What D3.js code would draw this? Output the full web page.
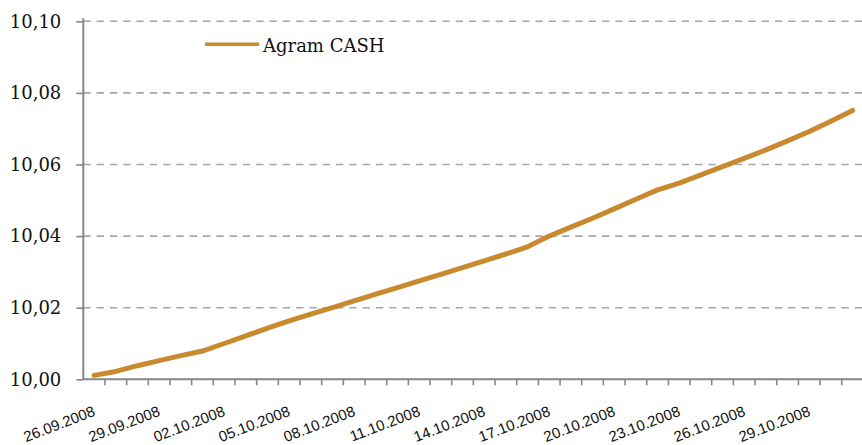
<!DOCTYPE html>
<html>
<head>
<meta charset="utf-8">
<script src="https://cdn.jsdelivr.net/npm/d3@7"></script>
<style>
  html, body { margin: 0; padding: 0; background: #ffffff; }
  svg { display: block; }
</style>
</head>
<body>
<svg id="chart" width="862" height="445"></svg>
<script>
// ---- data ----
const dates = [
  "26.09.2008","27.09.2008","28.09.2008","29.09.2008","30.09.2008",
  "01.10.2008","02.10.2008","03.10.2008","04.10.2008","05.10.2008",
  "06.10.2008","07.10.2008","08.10.2008","09.10.2008","10.10.2008",
  "11.10.2008","12.10.2008","13.10.2008","14.10.2008","15.10.2008",
  "16.10.2008","17.10.2008","18.10.2008","19.10.2008","20.10.2008",
  "21.10.2008","22.10.2008","23.10.2008","24.10.2008","25.10.2008",
  "26.10.2008","27.10.2008","28.10.2008","29.10.2008","30.10.2008",
  "31.10.2008"
];
const agramCash = [
  10.0011, 10.0022, 10.0038, 10.0052, 10.0066,
  10.0079, 10.0100, 10.0121, 10.0143, 10.0163,
  10.0182, 10.0200, 10.0219, 10.0238, 10.0256,
  10.0275, 10.0293, 10.0312, 10.0331, 10.0350,
  10.0370, 10.0400, 10.0425, 10.0450, 10.0476,
  10.0503, 10.0529, 10.0548, 10.0571, 10.0594,
  10.0617, 10.0641, 10.0666, 10.0692, 10.0721,
  10.0751
];
const yTicks = [10.00, 10.02, 10.04, 10.06, 10.08, 10.10];
const seriesName = "Agram CASH";

// ---- layout ----
const svg = d3.select("#chart");
const plotLeft = 83.3, plotBottom = 379.3, plotTop = 21.3;
const band = 21.67;
const color = "#c8892f";
const axisColor = "#868686";
const gridColor = "#a6a6a6";

const x = d3.scaleBand().domain(dates).range([plotLeft, plotLeft + band * dates.length]).padding(0);
const y = d3.scaleLinear().domain([10.00, 10.10]).range([plotBottom, plotTop]);

// gridlines
svg.append("g").selectAll("line").data(yTicks.filter(d => d > 10.0))
  .join("line")
  .attr("x1", plotLeft).attr("x2", 862)
  .attr("y1", d => y(d)).attr("y2", d => y(d))
  .attr("stroke", gridColor).attr("stroke-width", 1.6)
  .attr("stroke-dasharray", "7.3,6");

// y axis
const yAxis = d3.axisLeft(y).tickValues(yTicks).tickSize(7).tickPadding(15)
  .tickFormat(d => d3.format(".2f")(d).replace(".", ","));
const gy = svg.append("g").attr("transform", `translate(${plotLeft},0)`).call(yAxis);
gy.select(".domain").remove();
gy.selectAll(".tick line").attr("stroke", axisColor).attr("stroke-width", 1.6);
gy.selectAll(".tick text")
  .attr("fill", "#111").attr("font-family", "'DejaVu Serif', serif").attr("font-size", 18);
svg.append("line")
  .attr("x1", plotLeft).attr("x2", plotLeft).attr("y1", plotTop - 3).attr("y2", plotBottom)
  .attr("stroke", axisColor).attr("stroke-width", 2);

// x axis
svg.append("line")
  .attr("x1", plotLeft).attr("x2", 862).attr("y1", plotBottom).attr("y2", plotBottom)
  .attr("stroke", axisColor).attr("stroke-width", 2);
svg.append("g").selectAll("line").data(dates.slice(1))
  .join("line")
  .attr("x1", d => x(d)).attr("x2", d => x(d))
  .attr("y1", plotBottom).attr("y2", plotBottom + 6)
  .attr("stroke", axisColor).attr("stroke-width", 1.6);

svg.append("g").selectAll("text").data(dates.filter((d, i) => i % 3 === 0))
  .join("text")
  .attr("transform", d => `translate(${x(d) + x.bandwidth() / 2 + 2},${plotBottom + 36}) rotate(-21)`)
  .attr("text-anchor", "end")
  .attr("font-family", "'Liberation Sans', Arial, sans-serif")
  .attr("font-size", 15)
  .attr("fill", "#111")
  .text(d => d);

// line
const line = d3.line()
  .x((d, i) => x(dates[i]) + x.bandwidth() / 2)
  .y(d => y(d));
svg.append("path").datum(agramCash)
  .attr("d", line)
  .attr("fill", "none")
  .attr("stroke", color).attr("stroke-width", 5)
  .attr("stroke-linejoin", "round").attr("stroke-linecap", "round");

// legend
const lg = svg.append("g");
lg.append("line")
  .attr("x1", 205).attr("x2", 259).attr("y1", 44.3).attr("y2", 44.3)
  .attr("stroke", color).attr("stroke-width", 3.6);
lg.append("text")
  .attr("x", 263).attr("y", 51.5)
  .attr("font-family", "'DejaVu Serif', serif").attr("font-size", 18)
  .attr("fill", "#111")
  .text(seriesName);
</script>
</body>
</html>
